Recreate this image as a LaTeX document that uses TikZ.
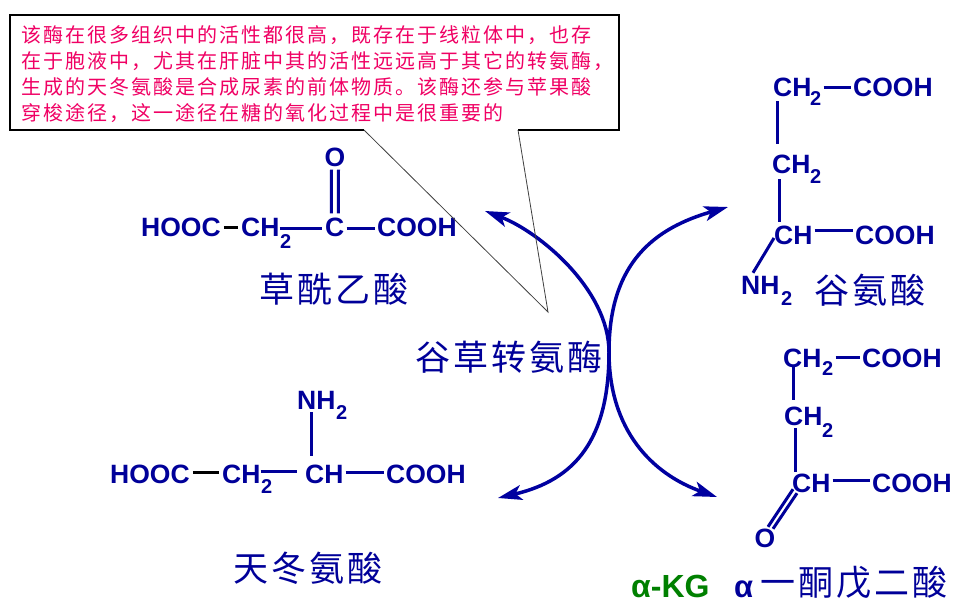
\documentclass[tikz,border=0pt]{standalone}
\usepackage{fontspec}
\usetikzlibrary{arrows.meta}
\newfontfamily\chemf{Liberation Sans}
\newfontfamily\cjkbox{Noto Sans CJK SC}[LetterSpace=10]
\newfontfamily\cjkname{Noto Sans CJK SC}[LetterSpace=8]
\definecolor{navy}{RGB}{0,0,153}
\definecolor{arcblue}{RGB}{0,0,160}
\definecolor{notered}{RGB}{240,0,100}
\definecolor{kggreen}{RGB}{0,128,0}
\tikzset{
 chem/.style={font=\chemf\bfseries\fontsize{26.5}{30}\selectfont, text=navy, inner sep=0pt, text height=19pt, text depth=0pt, anchor=west},
 subs/.style={font=\chemf\bfseries\fontsize{20}{22}\selectfont, text=navy, inner sep=0pt, anchor=base west},
 bond/.style={line width=3pt, draw=navy},
 hbond/.style={bond, shorten <=2pt, shorten >=2pt},
 kbond/.style={line width=3pt, draw=black, shorten <=3pt, shorten >=3pt},
 cname/.style={font=\cjkname\fontsize{35}{40}\selectfont, text=navy, inner sep=0pt},
 notetext/.style={font=\cjkbox\fontsize{20}{22}\selectfont, text=notered, inner sep=0pt, anchor=west},
 rarc/.style={line width=3.5pt, draw=arcblue, {Stealth[length=24pt,width=15pt,inset=6pt]}-{Stealth[length=24pt,width=15pt,inset=6pt]}},
}
\begin{document}
\begin{tikzpicture}[x=1pt,y=-1pt]
\useasboundingbox[fill=white] (0,0) rectangle (954,613);

% callout box
\draw[line width=1.2pt, fill=white] (10,15) rectangle (619,130);
\node[notetext] (n1) at (21,35) {该酶在很多组织中的活性都很高，既存在于线粒体中，也存};
\node[notetext] (n2) at (21,61) {在于胞液中，尤其在肝脏中其的活性远远高于其它的转氨酶，};
\node[notetext] (n3) at (21,87) {生成的天冬氨酸是合成尿素的前体物质。该酶还参与苹果酸};
\node[notetext] (n4) at (21,113) {穿梭途径，这一途径在糖的氧化过程中是很重要的};

% oxaloacetate
\node[chem] (oaL) at (141,227) {HOOC};
\node[chem] (oaCH) at (241,227) {CH};
\node[subs] (oaS) at (280,248) {2};
\node[chem] (oaC) at (325,227) {C};
\node[chem] (oaR) at (377,227) {COOH};
\node[chem,anchor=center] (oaO) at (335,157) {O};
\draw[kbond] (oaL.east) -- (oaCH.west);
\draw[bond] ([yshift=-1pt]oaCH.east) -- ([xshift=-3pt,yshift=-1pt]oaC.west);
\draw[hbond] ([yshift=-1pt]oaC.east) -- ([yshift=-1pt]oaR.west);
\draw[bond] ([xshift=-3.5pt,yshift=-3pt]oaO.south) -- ([xshift=-3.5pt,yshift=4pt]oaC.north);
\draw[bond] ([xshift=3.5pt,yshift=-3pt]oaO.south) -- ([xshift=3.5pt,yshift=4pt]oaC.north);
\node[cname] (oaN) at (334,289) {草酰乙酸};

% glutamate
\node[chem] (gA) at (773,87) {CH};
\node[subs] (gAs) at (810,105) {2};
\node[chem] (gAr) at (853,87) {COOH};
\node[chem] (gB) at (772,164) {CH};
\node[subs] (gBs) at (810,183) {2};
\node[chem] (gC) at (774,234.5) {CH};
\node[chem] (gCr) at (855,234.5) {COOH};
\node[chem] (gN) at (741,285) {NH};
\node[subs] (gNs) at (781,305) {2};
\draw[hbond] (gAs.east |- gA.east) -- (gAr.west);
\draw[bond] ([xshift=4pt,yshift=-4.5pt]gA.south west) -- ([xshift=5pt,yshift=10.5pt]gB.north west);
\draw[bond] ([xshift=7pt,yshift=-5.5pt]gB.south west) -- ([xshift=5pt,yshift=3pt]gC.north west);
\draw[hbond] ([yshift=4pt]gC.east) -- ([yshift=4pt]gCr.west);
\draw[bond] ([yshift=-3.5pt]gC.west) -- ([xshift=12pt,yshift=2.5pt]gN.north west);
\node[cname] (gName) at (870,290) {谷氨酸};

% alpha-ketoglutarate
\node[chem] (kA) at (783,357.5) {CH};
\node[subs] (kAs) at (822,375) {2};
\node[chem] (kAr) at (862,357.5) {COOH};
\node[chem] (kB) at (784,416) {CH};
\node[subs] (kBs) at (822,437) {2};
\node[chem] (kC) at (792,483) {CH};
\node[chem] (kCr) at (872,483) {COOH};
\node[chem,anchor=center] (kO) at (765,537.5) {O};
\draw[hbond] (kAs.east |- kA.east) -- (kAr.west);
\draw[bond] ([xshift=10pt]kA.south west) -- ([xshift=9pt,yshift=6.5pt]kB.north west);
\draw[bond] ([xshift=11pt,yshift=-2.5pt]kB.south west) -- ([xshift=3pt,yshift=1.5pt]kC.north west);
\draw[hbond] ([yshift=3pt]kC.east) -- ([yshift=3pt]kCr.west);
\draw[bond] ([xshift=1pt,yshift=3.5pt]kC.south west) -- ([xshift=3pt,yshift=1pt]kO.north);
\draw[bond] ([xshift=5pt,yshift=-0.5pt]kC.south west) -- ([xshift=8pt,yshift=-1pt]kO.north);
\node[font=\chemf\bfseries\fontsize{32}{36}\selectfont, text=kggreen, inner sep=0pt, anchor=base west] (kg) at (631,597) {α-KG};
\node[font=\chemf\bfseries\fontsize{31}{34}\selectfont, text=navy, inner sep=0pt, anchor=base west] (kAlpha) at (734,597) {α};
\node[cname] (kName) at (854,583) {一酮戊二酸};

% aspartate
\node[chem] (aL) at (110,474) {HOOC};
\node[chem] (aCH) at (222,474) {CH};
\node[subs] (aCHs) at (261,493) {2};
\node[chem] (aC) at (305,474) {CH};
\node[chem] (aR) at (386,474) {COOH};
\node[chem] (aN) at (297,400) {NH};
\node[subs] (aNs) at (336,419) {2};
\draw[kbond] ([yshift=2pt]aL.east) -- ([yshift=2pt]aCH.west);
\draw[bond] ([yshift=3pt]aCH.east) -- ([xshift=-8pt,yshift=3pt]aC.west);
\draw[hbond] ([yshift=2pt]aC.east) -- ([yshift=2pt]aR.west);
\draw[bond] ([xshift=14pt,yshift=-2.5pt]aN.south west) -- ([xshift=6pt,yshift=8.5pt]aC.north west);
\node[cname] (aName) at (308,568) {天冬氨酸};

% enzyme
\node[cname] (enz) at (509,357.5) {谷草转氨酶};

% reaction arcs
\coordinate (lt) at (485,211);
\coordinate (lm) at (609,352);
\coordinate (lb) at (498,498);
\coordinate (rt) at (728,207);
\coordinate (rb) at (717,497);
\draw[rarc] (lt) .. controls (540,232) and (609,290) .. (lm) .. controls (609,440) and (575,480) .. (lb);
\draw[rarc] (rt) .. controls (655,228) and (609,262) .. (lm) .. controls (609,430) and (652,474) .. (rb);

% callout pointer
\coordinate (tip) at (548,312);
\coordinate (pa) at (364,130);
\coordinate (pb) at (518,130);
\draw[white, line width=1.6pt] (pa) -- (pb);
\draw[black!75, line width=0.8pt] (pa) -- (tip) -- (pb);
\end{tikzpicture}
\end{document}
